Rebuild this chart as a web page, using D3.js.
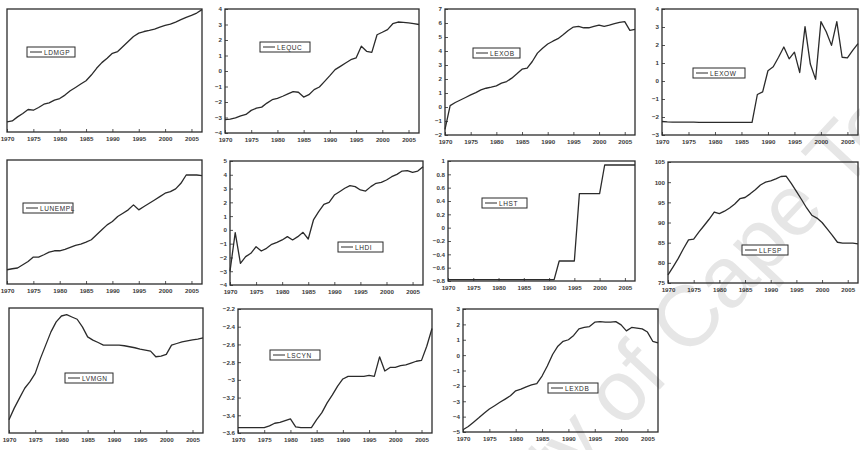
<!DOCTYPE html>
<html>
<head>
<meta charset="utf-8">
<script src="https://cdn.jsdelivr.net/npm/d3@7"></script>
<style>
  body { margin: 0; background: #fff; }
  svg text { font-family: "Liberation Sans", Arial, sans-serif; }
</style>
</head>
<body>
<svg id="chart" width="860" height="450"></svg>
<script>
// Annual observations, 1970-2007
const years = [1970,1971,1972,1973,1974,1975,1976,1977,1978,1979,
               1980,1981,1982,1983,1984,1985,1986,1987,1988,1989,
               1990,1991,1992,1993,1994,1995,1996,1997,1998,1999,
               2000,2001,2002,2003,2004,2005,2006,2007];
const xTickYears = [1970,1975,1980,1985,1990,1995,2000,2005];

// Series values (one array per variable)
const ldmgp = [0.82,0.9,1.23,1.5,1.83,1.77,1.99,2.26,2.37,2.59,
               2.72,3.0,3.35,3.62,3.9,4.17,4.63,5.18,5.64,5.99,
               6.4,6.54,6.95,7.36,7.77,8.04,8.17,8.26,8.37,8.53,
               8.66,8.77,8.94,9.13,9.32,9.48,9.67,9.95];
const lequc = [-3.14,-3.1,-3.03,-2.9,-2.8,-2.54,-2.4,-2.33,-2.07,-1.85,
               -1.76,-1.63,-1.48,-1.33,-1.37,-1.68,-1.53,-1.2,-1.03,-0.67,
               -0.3,0.09,0.3,0.52,0.73,0.84,1.6,1.27,1.2,2.34,
               2.5,2.67,3.05,3.16,3.14,3.1,3.05,3.0];
const lexob = [-1.6,0.1,0.32,0.5,0.68,0.87,1.03,1.22,1.34,1.42,
               1.51,1.7,1.82,2.06,2.37,2.7,2.78,3.25,3.85,4.2,
               4.5,4.7,4.88,5.16,5.47,5.71,5.76,5.66,5.66,5.76,
               5.85,5.76,5.85,5.95,6.05,6.1,5.47,5.55];
const lexow = [-2.25,-2.27,-2.28,-2.28,-2.29,-2.29,-2.29,-2.3,-2.3,-2.3,
               -2.3,-2.3,-2.3,-2.3,-2.3,-2.3,-2.3,-2.3,-0.75,-0.6,
               0.57,0.79,1.32,1.89,1.23,1.6,0.47,3.02,0.94,0.09,
               3.3,2.74,1.98,3.3,1.32,1.28,1.7,2.08];
const lunempl = [1.15,1.23,1.29,1.55,1.82,2.17,2.17,2.36,2.57,2.68,
                 2.68,2.79,2.95,3.11,3.22,3.38,3.57,3.97,4.37,4.77,
                 5.04,5.44,5.71,5.98,6.38,5.98,6.25,6.51,6.78,7.05,
                 7.32,7.45,7.67,8.12,8.79,8.79,8.79,8.74];
const lhdi = [-3.0,-0.2,-2.43,-1.94,-1.7,-1.22,-1.53,-1.34,-1.05,-0.9,
              -0.73,-0.49,-0.73,-0.49,-0.18,-0.66,0.72,1.32,1.85,2.0,
              2.53,2.77,3.02,3.21,3.14,2.9,2.82,3.14,3.38,3.45,
              3.62,3.86,4.03,4.27,4.3,4.18,4.27,4.59];
const lhst = [-0.78,-0.78,-0.78,-0.78,-0.78,-0.78,-0.78,-0.78,-0.78,-0.78,
              -0.78,-0.78,-0.78,-0.78,-0.78,-0.78,-0.78,-0.78,-0.78,-0.78,
              -0.78,-0.78,-0.5,-0.5,-0.5,-0.5,0.51,0.51,0.51,0.51,
              0.51,0.94,0.94,0.94,0.94,0.94,0.94,0.94];
const llfsp = [77.0,79.0,81.1,83.5,85.7,85.9,87.6,89.2,90.8,92.6,
               92.2,92.8,93.6,94.6,95.9,96.2,97.1,98.1,99.3,100.0,
               100.3,100.8,101.4,101.5,99.7,97.7,95.7,93.6,91.8,91.1,
               90.0,88.4,86.8,85.1,84.9,84.9,84.9,84.7];
const lvmgn = [1.06,1.99,2.79,3.58,4.11,4.77,5.97,7.03,8.09,8.89,
               9.36,9.47,9.28,9.1,8.49,7.69,7.43,7.24,7.03,7.03,
               7.03,7.03,6.98,6.9,6.82,6.71,6.63,6.55,6.1,6.15,
               6.29,7.03,7.16,7.29,7.37,7.45,7.51,7.61];
const lscyn = [-3.54,-3.54,-3.54,-3.54,-3.54,-3.54,-3.52,-3.49,-3.48,-3.46,
               -3.44,-3.53,-3.54,-3.54,-3.54,-3.45,-3.37,-3.26,-3.17,-3.07,
               -2.99,-2.96,-2.96,-2.96,-2.96,-2.95,-2.96,-2.74,-2.9,-2.86,
               -2.86,-2.84,-2.83,-2.81,-2.79,-2.78,-2.62,-2.42];
const lexdb = [-4.85,-4.64,-4.36,-4.08,-3.78,-3.5,-3.29,-3.07,-2.86,-2.64,
               -2.32,-2.21,-2.06,-1.94,-1.85,-1.36,-0.71,0.04,0.58,0.9,
               1.0,1.28,1.71,1.8,1.86,2.14,2.18,2.14,2.14,2.18,
               1.97,1.58,1.8,1.76,1.71,1.5,0.9,0.79];

// Y tick labels per panel (null: labels fall outside the page)
const ticksLequc = [4,3,2,1,0,-1,-2,-3,-4];
const ticksLexob = [7,6,5,4,3,2,1,0,-1,-2];
const ticksLexow = [4,3,2,1,0,-1,-2,-3];
const ticksLhdi  = [5,4,3,2,1,0,-1,-2,-3,-4];
const ticksLhst  = [1.0,0.8,0.6,0.4,0.2,0.0,-0.2,-0.4,-0.6,-0.8];
const ticksLlfsp = [105,100,95,90,85,80,75];
const ticksLscyn = [-2.2,-2.4,-2.6,-2.8,-3.0,-3.2,-3.4,-3.6];
const ticksLexdb = [3,2,1,0,-1,-2,-3,-4,-5];

const svg = d3.select("#chart");

// Faint watermark running diagonally across the right half
const wm = svg.append("g")
  .attr("transform", "translate(622,430) rotate(-47)")
  .attr("fill", "#e6e6e6")
  .style("font-size", "86px");
wm.append("text").attr("text-anchor", "end").attr("x", -20).text("University");
wm.append("text").attr("text-anchor", "start").attr("x", 0).text("of Cape Town");

// Panel frames: [left, top, right, bottom], y domain, legend origin and width
const panels = [
  { name: "LDMGP",   data: ldmgp,   box: [7, 9, 202, 132],     dom: [0, 10],    ticks: null,       leg: [27, 47, 48] },
  { name: "LEQUC",   data: lequc,   box: [225, 9, 419, 133],   dom: [-4, 4],    ticks: ticksLequc, leg: [260, 42, 50] },
  { name: "LEXOB",   data: lexob,   box: [445, 9, 635, 135],   dom: [-2, 7],    ticks: ticksLexob, leg: [473, 48, 47] },
  { name: "LEXOW",   data: lexow,   box: [662, 9, 858, 135],   dom: [-3, 4],    ticks: ticksLexow, leg: [693, 68, 52] },
  { name: "LUNEMPL", data: lunempl, box: [7, 160, 202, 284],   dom: [0, 10],    ticks: null,       leg: [23, 203, 50] },
  { name: "LHDI",    data: lhdi,    box: [230, 161, 423, 285], dom: [-4, 5],    ticks: ticksLhdi,  leg: [338, 242, 45] },
  { name: "LHST",    data: lhst,    box: [448, 161, 635, 281], dom: [-0.8, 1],  ticks: ticksLhst,  leg: [482, 198, 45] },
  { name: "LLFSP",   data: llfsp,   box: [668, 162, 858, 283], dom: [75, 105],  ticks: ticksLlfsp, leg: [742, 245, 46] },
  { name: "LVMGN",   data: lvmgn,   box: [9, 308, 203, 433],   dom: [0, 10],    ticks: null,       leg: [65, 373, 48] },
  { name: "LSCYN",   data: lscyn,   box: [238, 309, 432, 433], dom: [-3.6, -2.2], ticks: ticksLscyn, leg: [270, 350, 50] },
  { name: "LEXDB",   data: lexdb,   box: [463, 309, 658, 432], dom: [-5, 3],    ticks: ticksLexdb, leg: [548, 383, 50] }
];

const ink = "#2b2b2b";

panels.forEach(p => {
  const [l, t, r, b] = p.box;
  const x = d3.scaleLinear().domain([1970, 2007]).range([l, r]);
  const y = d3.scaleLinear().domain(p.dom).range([b, t]);
  const g = svg.append("g");

  // Bottom axis with inward ticks
  const xa = g.append("g")
    .attr("transform", `translate(0,${b})`)
    .call(d3.axisBottom(x).tickValues(xTickYears).tickFormat(d3.format("d"))
      .tickSize(-3).tickPadding(5));
  xa.select(".domain").remove();
  xa.selectAll("line").attr("stroke", ink).attr("stroke-width", 0.8);
  xa.selectAll("text").attr("fill", "#3a3a3a").style("font-size", "6.2px").style("font-weight", "bold");

  // Left axis with inward ticks
  if (p.ticks) {
    const ya = g.append("g")
      .attr("transform", `translate(${l},0)`)
      .call(d3.axisLeft(y).tickValues(p.ticks).tickSize(-3).tickPadding(3)
        .tickFormat(d => Number.isInteger(d) ? d3.format("d")(d) : d3.format(".1f")(d)));
    ya.select(".domain").remove();
    ya.selectAll("line").attr("stroke", ink).attr("stroke-width", 0.8);
    ya.selectAll("text").attr("fill", "#3a3a3a").style("font-size", "6.2px").style("font-weight", "bold");
  }

  // Series line
  const line = d3.line().x((d, i) => x(years[i])).y(d => y(d));
  g.append("path")
    .datum(p.data)
    .attr("d", line)
    .attr("fill", "none")
    .attr("stroke", ink)
    .attr("stroke-width", 1.3)
    .attr("stroke-linejoin", "round");

  // Frame
  g.append("rect")
    .attr("x", l).attr("y", t).attr("width", r - l).attr("height", b - t)
    .attr("fill", "none").attr("stroke", ink).attr("stroke-width", 1.3);

  // Legend
  const [lx, ly, lw] = p.leg;
  const lg = g.append("g").attr("transform", `translate(${lx},${ly})`);
  lg.append("rect").attr("width", lw).attr("height", 10)
    .attr("fill", "#fff").attr("stroke", ink).attr("stroke-width", 1);
  lg.append("line").attr("x1", 3).attr("x2", 15).attr("y1", 5).attr("y2", 5)
    .attr("stroke", ink).attr("stroke-width", 1);
  lg.append("text").attr("x", 17).attr("y", 7.5)
    .attr("fill", ink)
    .style("font-size", "6.5px").style("letter-spacing", "0.6px")
    .text(p.name);
});
</script>
</body>
</html>
